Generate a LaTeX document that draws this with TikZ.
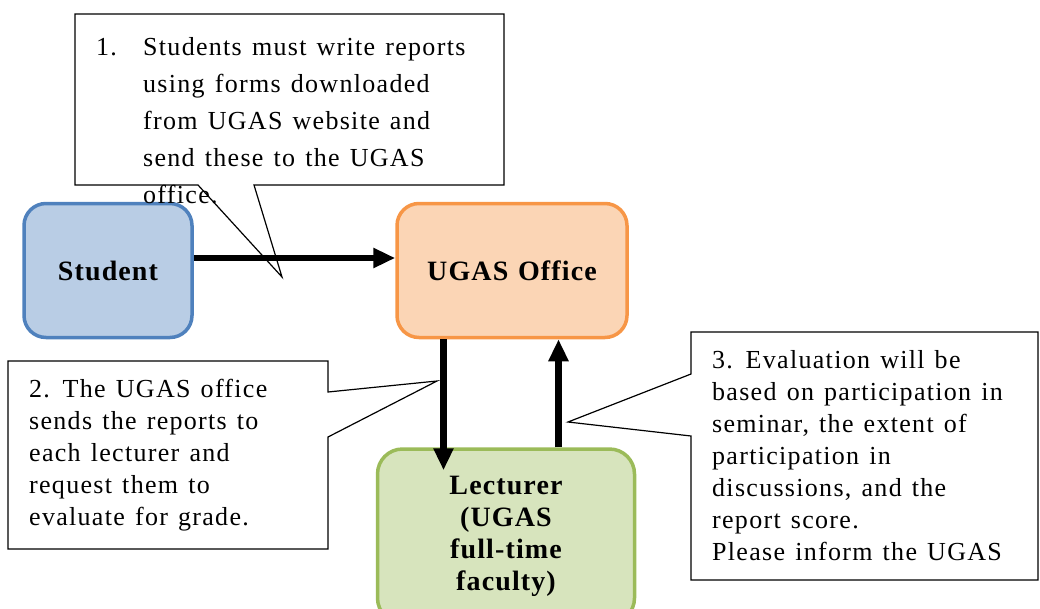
\documentclass[tikz,border=0pt]{standalone}
\usepackage{fontspec}
\setmainfont{Liberation Serif}[LetterSpace=5,WordSpace=1.3]
\newfontfamily\boxfont{Liberation Serif}[LetterSpace=4,WordSpace=1.2]
\usetikzlibrary{arrows.meta}
\definecolor{stuFill}{HTML}{B9CDE5}
\definecolor{stuLine}{HTML}{4F81BD}
\definecolor{offFill}{HTML}{FBD5B5}
\definecolor{offLine}{HTML}{F79646}
\definecolor{lecFill}{HTML}{D7E4BD}
\definecolor{lecLine}{HTML}{9BBB59}
\newcommand\stackL[2]{\vtop{\baselineskip=#1\lineskiplimit=-100pt\lineskip=0pt\halign{##\hfil\cr#2\crcr}}}
\begin{document}
\begin{tikzpicture}[x=1pt,y=-1pt,
  box/.style={draw, rounded corners=22pt, line width=3.5pt, font=\boxfont\bfseries\fontsize{28}{32}\selectfont, align=center, inner sep=0pt},
  callout/.style={draw=black, fill=white, line width=1.2pt, line join=miter},
  arr/.style={line width=6.5pt, -{Triangle[length=22pt,width=19pt]}},
  ctext/.style={anchor=base west, inner sep=0pt, font=\fontsize{26}{32}\selectfont}]
\useasboundingbox (0,0) rectangle (1040,608);
\clip (0,0) rectangle (1040,608);
% callouts
\coordinate (c1tip) at (282,277);
\draw[callout] (75,14) -- (504,14) -- (504,185) -- (254,185) -- (c1tip) -- (198,185) -- (75,185) -- cycle;
\coordinate (c2tip) at (437,381);
\draw[callout] (8,361) -- (328,361) -- (328,392) -- (c2tip) -- (328,437) -- (328,549) -- (8,549) -- cycle;
\coordinate (c3tip) at (568,422);
\draw[callout] (691,332) -- (1038,332) -- (1038,580) -- (691,580) -- (691,436) -- (c3tip) -- (691,374) -- cycle;
% boxes
\node[box, draw=stuLine, fill=stuFill, minimum width=168pt, minimum height=134pt] (student) at (108,270.5) {Student};
\node[box, draw=offLine, fill=offFill, minimum width=230pt, minimum height=134pt] (office) at (512,270.5) {UGAS Office};
\node[box, draw=lecLine, fill=lecFill, rounded corners=25pt, minimum width=257pt, minimum height=174pt] (lecturer) at (506,536) {Lecturer\\(UGAS\\full-time\\faculty)};
% arrows
\draw[arr] ([yshift=12.5pt]student.east) -- ([yshift=12.5pt]office.west);
\draw[arr] ([xshift=-68.5pt]office.south) -- ([xshift=-62.5pt,yshift=-23pt]lecturer.north);
\draw[arr] ([xshift=52.5pt]lecturer.north) -- ([xshift=46.5pt]office.south);
% callout texts
\node[ctext] (c1num) at (96,55) {1.};
\node[ctext] (c1text) at (143,55) {\stackL{37pt}{Students must write reports\cr
using forms downloaded\cr
from UGAS website and\cr
send these to the UGAS\cr
office.}};
\node[ctext] (c2text) at (29,397) {\stackL{32pt}{2. The UGAS office\cr
sends the reports to\cr
each lecturer and\cr
request them to\cr
evaluate for grade.}};
\node[ctext] (c3text) at (712,368) {\stackL{32pt}{3. Evaluation will be\cr
based on participation in\cr
seminar, the extent of\cr
participation in\cr
discussions, and the\cr
report score.\cr
Please inform the UGAS}};
\end{tikzpicture}
\end{document}
